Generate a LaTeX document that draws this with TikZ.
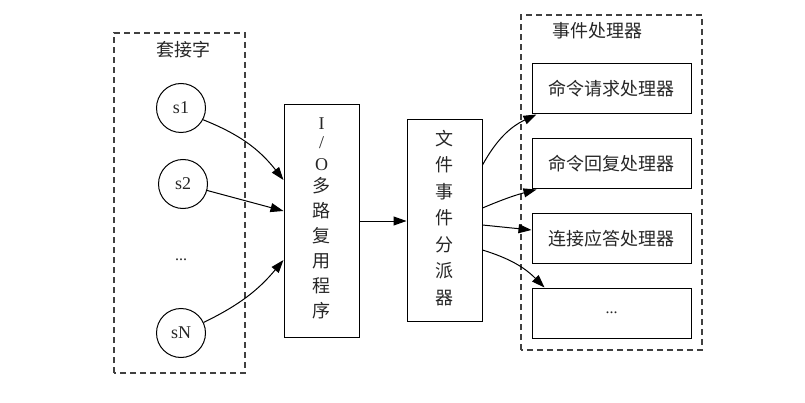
\documentclass[tikz,border=0pt]{standalone}
\usepackage{fontspec}
\setmainfont{Liberation Serif}
\newfontfamily\cjk{Noto Sans CJK SC}
\usetikzlibrary{arrows.meta}
\begin{document}
\begin{tikzpicture}[x=1pt,y=1pt,
  txt/.style={text=black!85, inner sep=0pt},
  grp/.style={draw=black!75, line width=1.2pt, dash pattern=on 6pt off 4pt},
  sock/.style={circle, draw, line width=1pt, minimum size=49pt, inner sep=0pt, font=\fontsize{18}{18}\selectfont, text=black!85},
  box/.style={draw, line width=1pt, inner sep=0pt, text=black!85},
  arr/.style={line width=1pt, -{Triangle[length=13pt,width=9pt]}}
]
\useasboundingbox (0,0) rectangle (805,402);
% groups
\draw[grp] (114,29) rectangle (245,369);
\node[txt, font=\cjk\fontsize{18}{18}\selectfont] (tsock) at (183,352) {套接字};
\draw[grp] (521,52) rectangle (702,387);
\node[txt, font=\cjk\fontsize{18}{18}\selectfont] (thand) at (597,371) {事件处理器};
% sockets
\node[sock] (s1) at (181,294) {s1};
\node[sock] (s2) at (183,218) {s2};
\node[txt, font=\fontsize{16}{16}\selectfont] (sd) at (181,142) {...};
\node[sock] (sN) at (181,69) {sN};
% io multiplexer
\node[box, minimum width=75pt, minimum height=232pt] (io) at (321.5,181) {};
\node[txt, align=center, font=\fontsize{18}{25}\selectfont] at (321.5,184) {I\\[-6pt]/\\[-3pt]O\\[-3pt]{\cjk 多}\\{\cjk 路}\\{\cjk 复}\\{\cjk 用}\\{\cjk 程}\\{\cjk 序}};
% dispatcher
\node[box, minimum width=75pt, minimum height=201pt] (disp) at (444.5,181.5) {};
\node[txt, align=center, font=\cjk\fontsize{18}{26.5}\selectfont] at (444.5,184) {文\\件\\事\\件\\分\\派\\器};
% handlers
\node[box, minimum width=159pt, minimum height=50pt, font=\cjk\fontsize{18}{18}\selectfont] (h1) at (611.5,313) {命令请求处理器};
\node[box, minimum width=159pt, minimum height=50pt, font=\cjk\fontsize{18}{18}\selectfont] (h2) at (611.5,238) {命令回复处理器};
\node[box, minimum width=159pt, minimum height=50pt, font=\cjk\fontsize{18}{18}\selectfont] (h3) at (611.5,163.5) {连接应答处理器};
\node[box, minimum width=159pt, minimum height=50pt, font=\fontsize{16}{16}\selectfont] (h4) at (611.5,89) {...};
% arrows left
\draw[arr] (s1.-28) to[bend left=15] ([yshift=41pt]io.west);
\draw[arr] (s2.-15) -- ([yshift=10pt]io.west);
\draw[arr] (sN.25) to[bend right=12] ([yshift=-39pt]io.west);
\draw[arr] (io.east) -- (disp.west |- io.east);
% arrows right
\draw[arr] ([yshift=55.5pt]disp.east) to[bend left=18] ([xshift=5pt]h1.south west);
\draw[arr] ([yshift=12.5pt]disp.east) to[bend left=4] ([xshift=5pt]h2.south west);
\draw[arr] ([yshift=-4.5pt]disp.east) -- ([yshift=8.5pt]h3.west);
\draw[arr] ([yshift=-29.5pt]disp.east) to[bend left=14] ([xshift=13pt]h4.north west);
\end{tikzpicture}
\end{document}
